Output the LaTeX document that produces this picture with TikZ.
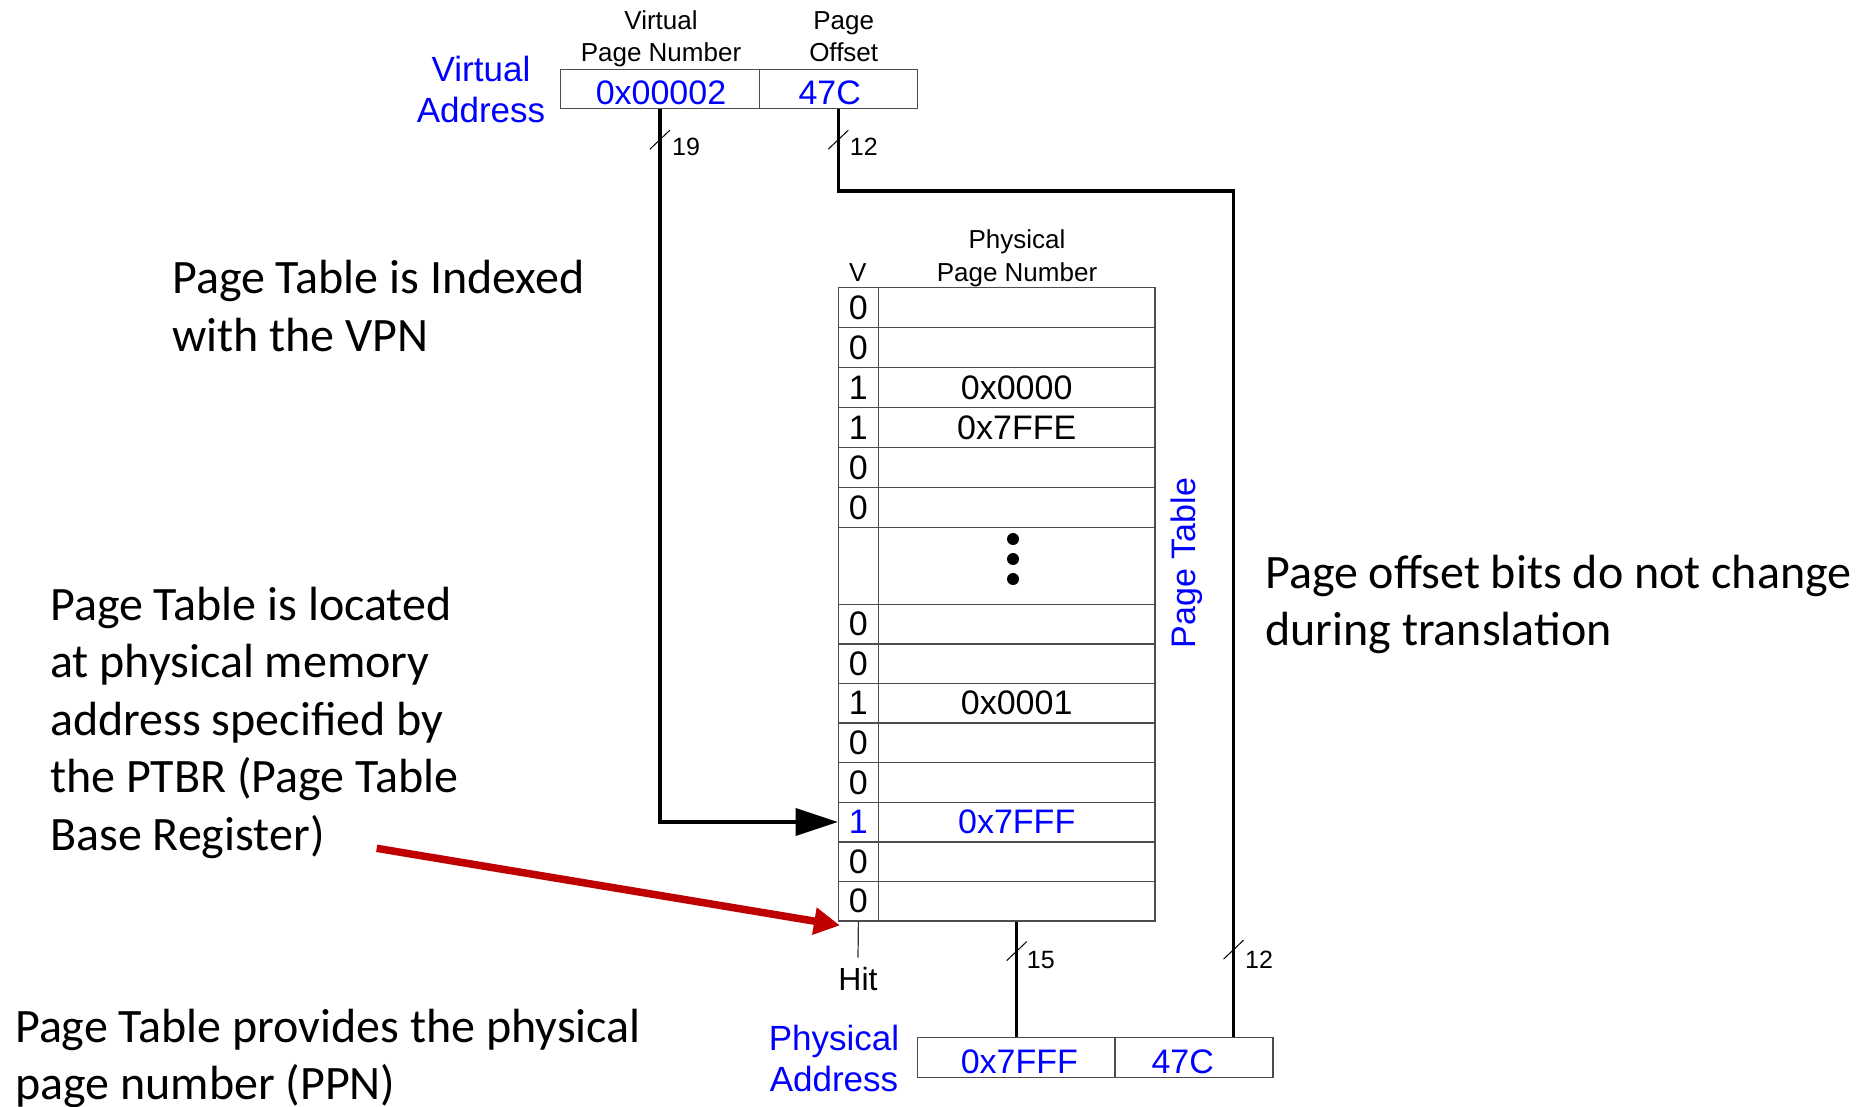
\documentclass[tikz,border=0pt]{standalone}
\usepackage{fontspec}
\setmainfont{Liberation Sans}
\newfontfamily\calib{Carlito}
\usetikzlibrary{arrows.meta}
\definecolor{pblue}{RGB}{0,0,255}
\definecolor{pred}{RGB}{192,0,0}
\begin{document}
\begin{tikzpicture}[x=1pt,y=-1pt,
  box/.style={draw=black!70, line width=1.4pt, inner sep=0pt},
  val/.style={font=\fontsize{34}{40}\selectfont, inner sep=0pt, anchor=base},
  hdr/.style={font=\fontsize{26}{32.5}\selectfont, inner sep=0pt, anchor=base},
  lbl/.style={font=\fontsize{35}{41}\selectfont, text=pblue, inner sep=0pt, anchor=base},
  bits/.style={font=\fontsize{25}{30}\selectfont, inner sep=0pt, anchor=base west},
  bus/.style={line width=3.3pt},
  slashmark/.style={line width=1pt},
  note/.style={font=\calib\fontsize{48}{57.5}\selectfont, inner sep=0pt, anchor=base west},
  vcell/.style={box, minimum width=40pt, anchor=north west, font=\fontsize{34}{40}\selectfont},
  pcell/.style={box, minimum width=276.6pt, anchor=north west, font=\fontsize{34}{40}\selectfont},
]
\useasboundingbox[fill=white] (0,0) rectangle (1873,1107);

% ---------- virtual address ----------
\node[box, minimum width=198.6pt, minimum height=39pt] (vpn) at (659.9,88.8) {};
\node[box, minimum width=158.2pt, minimum height=39pt] (voff) at (838.3,88.8) {};
\node[val, text=pblue] (vpntxt) at (661,105) {0x00002};
\node[val, text=pblue] (vofftxt) at (829.7,105) {47C};
\node[hdr] (vpnhdr) at (661,62) {\begin{tabular}[b]{@{}c@{}}Virtual\\Page Number\end{tabular}};
\node[hdr] (offhdr) at (843.7,62) {\begin{tabular}[b]{@{}c@{}}Page\\Offset\end{tabular}};
\node[lbl] (valbl) at (481,122.7) {\begin{tabular}[b]{@{}c@{}}Virtual\\Address\end{tabular}};

% ---------- page table ----------
\foreach \i/\t/\h/\v/\p/\c in {
  1/287/40/0//black, 2/327/40/0//black, 3/367/40/1/0x0000/black, 4/407/40/1/0x7FFE/black,
  5/447/40/0//black, 6/487/40/0//black, 7/527/76.5///black,
  8/603.5/39.6/0//black, 9/643.1/39.6/0//black, 10/682.7/39.6/1/0x0001/black,
  11/722.3/39.6/0//black, 12/761.9/39.6/0//black, 13/801.5/39.6/1/0x7FFF/pblue,
  14/841.1/39.6/0//black, 15/880.7/39.6/0//black}{
  \node[vcell, minimum height=\h pt, text=\c] (v\i) at (837.7,\t) {\v};
  \node[pcell, minimum height=\h pt, text=\c] (p\i) at (877.7,\t) {\p};
}
\foreach \yy in {539,559,579}{\fill (1013,\yy) circle[radius=6pt];}
\node[hdr] (vhdr) at (857.7,281.5) {V};
\node[hdr] (ppnhdr) at (1017,281.5) {\begin{tabular}[b]{@{}c@{}}Physical\\Page Number\end{tabular}};
\node[font=\fontsize{34}{40}\selectfont, text=pblue, rotate=90, inner sep=0pt] (ptlbl) at (1187,563) {Page Table};

% ---------- physical address ----------
\node[box, minimum width=197.3pt, minimum height=39.6pt] (pppn) at (1016.35,1057.5) {};
\node[box, minimum width=158pt, minimum height=39.6pt] (poff) at (1194,1057.5) {};
\node[val, text=pblue] (pppntxt) at (1019.3,1073.3) {0x7FFF};
\node[val, text=pblue] (pofftxt) at (1182.7,1073.3) {47C};
\node[lbl] (palbl) at (834,1091.7) {\begin{tabular}[b]{@{}c@{}}Physical\\Address\end{tabular}};

% ---------- hit ----------
\node[font=\fontsize{32}{38}\selectfont, anchor=base, inner sep=0pt] (hit) at (858,990) {Hit};
\draw[line width=1.2pt, black!80] (v15.south) -- ([yshift=9pt]hit.north);

% ---------- buses ----------
\draw[bus, -{Triangle[length=42pt,width=27pt]}] (vpn.south) |- (v13.west);
\coordinate (turn) at (1233.5,191);
\draw[bus] (voff.south) |- (turn) -- (turn |- poff.north);
\draw[bus] (p15.south) -- (p15.south |- pppn.north);

% bus width marks
\draw[slashmark] ([yshift=-30.7pt]vpn.south) +(-10,9.5) -- +(10,-9.5);
\draw[slashmark] ([yshift=-30.7pt]voff.south) +(-10,9.5) -- +(10,-9.5);
\draw[slashmark] ([yshift=-29.4pt]p15.south) +(-10,9.5) -- +(10,-9.5);
\coordinate (s4) at (1233.5,949.7);
\draw[slashmark] (s4) +(-10,9.5) -- +(10,-9.5);
\node[bits] (b19) at (672,156) {19};
\node[bits] (b12a) at (849.7,156) {12};
\node[bits] (b15) at (1026.7,968.3) {15};
\node[bits] (b12b) at (1245,968.3) {12};

% ---------- notes ----------
\node[note] (n1) at (172,294) {\begin{tabular}[t]{@{}l@{}}Page Table is Indexed\\with the VPN\end{tabular}};
\node[note] (n2) at (50,620) {\begin{tabular}[t]{@{}l@{}}Page Table is located\\at physical memory\\address specified by\\the PTBR (Page Table\\Base Register)\end{tabular}};
\node[note] (n3) at (15,1042) {\begin{tabular}[t]{@{}l@{}}Page Table provides the physical\\page number (PPN)\end{tabular}};
\node[note] (n4) at (1265,588) {\begin{tabular}[t]{@{}l@{}}Page offset bits do not change\\during translation\end{tabular}};

% ---------- PTBR arrow ----------
\coordinate (ptbrtail) at (376.7,848.3);
\draw[line width=7.5pt, pred, -{Triangle[length=26pt,width=26pt]}] (ptbrtail) -- ([shift={(2.3pt,-3.7pt)}]v15.south west);
\end{tikzpicture}
\end{document}
